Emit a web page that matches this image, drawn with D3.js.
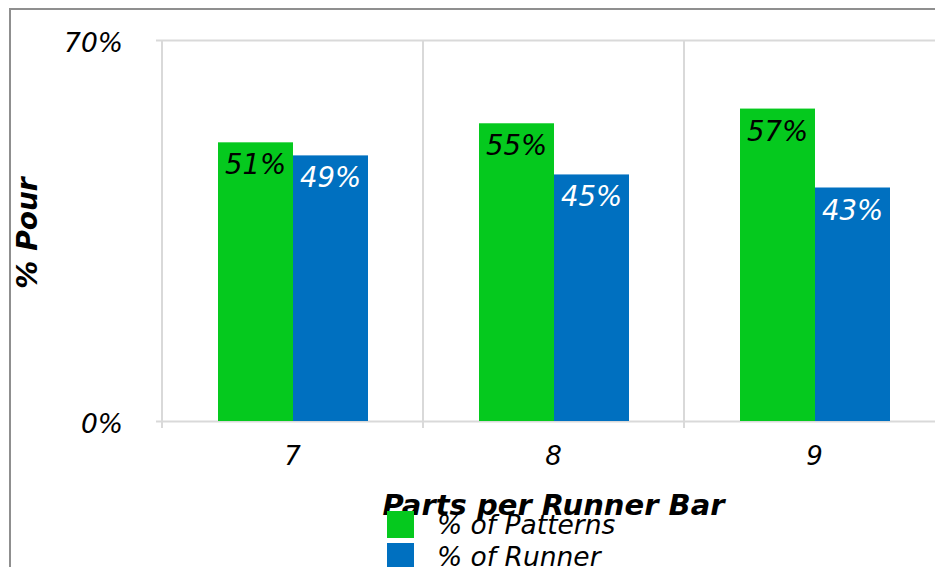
<!DOCTYPE html>
<html><head><meta charset="utf-8">
<script src="https://cdn.jsdelivr.net/npm/d3@7"></script>
<style>
html,body{margin:0;padding:0;background:#fff;overflow:hidden;}
svg{display:block;font-family:"DejaVu Sans",Verdana,sans-serif;}
</style></head>
<body>
<svg id="chart" width="935" height="567"></svg>
<script>
const categories = ["7", "8", "9"];
const seriesNames = ["% of Patterns", "% of Runner"];
const patterns = [51.2, 54.7, 57.4];
const runner = [48.8, 45.3, 42.9];
const yTicks = [0, 70];
const seriesColors = ["#05c91e", "#0070c0"];
const labelColors = ["#000000", "#ffffff"];

const svg = d3.select("#chart");
const plot = {left: 162, top: 40, bottom: 421, right: 945};
const gridColor = "#d9d9d9";

// outer border
svg.append("rect").attr("x", 10).attr("y", 9).attr("width", 1000).attr("height", 700)
  .attr("fill", "none").attr("stroke", "#8f8f8f").attr("stroke-width", 2);

const y = d3.scaleLinear().domain([0, 70]).range([plot.bottom, plot.top]);
const x0 = d3.scaleBand().domain(categories).range([plot.left, plot.right]).padding(0);
const groupW = 150;
const x1 = d3.scaleBand().domain(seriesNames).range([0, groupW]).padding(0);

// horizontal gridlines + left ticks
const yAxis = d3.axisLeft(y).tickValues(yTicks).tickSize(0).tickFormat(d => d + "%");
const gy = svg.append("g").attr("transform", `translate(${plot.left},0)`).call(yAxis);
gy.select(".domain").remove();
gy.selectAll(".tick line").remove();
gy.selectAll(".tick").append("line")
  .attr("x1", -6).attr("x2", plot.right - plot.left)
  .attr("stroke", gridColor).attr("stroke-width", 2);
gy.selectAll(".tick text")
  .attr("x", -39).attr("dy", "0.42em")
  .attr("font-size", 26.5).attr("font-style", "italic")
  .attr("font-family", "DejaVu Sans").attr("fill", "#000");

// vertical category boundaries
const bounds = categories.map(c => x0(c)).concat([plot.right]);
svg.append("g").selectAll("line").data(bounds).join("line")
  .attr("x1", d => d).attr("x2", d => d)
  .attr("y1", plot.top).attr("y2", plot.bottom + 7)
  .attr("stroke", gridColor).attr("stroke-width", 2);

// x axis labels
const xAxis = d3.axisBottom(x0).tickSize(0).tickPadding(26);
const gx = svg.append("g").attr("transform", `translate(0,${plot.bottom})`).call(xAxis);
gx.select(".domain").remove();
gx.selectAll(".tick text").attr("font-size", 26).attr("font-style", "italic")
  .attr("font-family", "DejaVu Sans").attr("fill", "#000");

// bars
const rows = categories.map((c, i) => ({cat: c, vals: [patterns[i], runner[i]]}));
const groups = svg.append("g").selectAll("g").data(rows).join("g")
  .attr("transform", d => `translate(${x0(d.cat) + (x0.bandwidth() - groupW) / 2 + 0.5},0)`);
groups.selectAll("rect").data(d => d.vals.map((v, j) => ({v, j}))).join("rect")
  .attr("x", d => x1(seriesNames[d.j]))
  .attr("width", x1.bandwidth())
  .attr("y", d => y(d.v))
  .attr("height", d => y(0) - y(d.v))
  .attr("fill", d => seriesColors[d.j]);
groups.selectAll("text").data(d => d.vals.map((v, j) => ({v, j}))).join("text")
  .attr("x", d => x1(seriesNames[d.j]) + x1.bandwidth() / 2)
  .attr("y", d => y(d.v) + 32)
  .attr("text-anchor", "middle")
  .attr("font-size", 27.5).attr("font-style", "italic")
  .attr("fill", d => labelColors[d.j])
  .text(d => Math.round(d.v) + "%");

// axis titles
svg.append("text").attr("x", (plot.left + plot.right) / 2).attr("y", 515)
  .attr("text-anchor", "middle").attr("font-size", 29)
  .attr("font-weight", "bold").attr("font-style", "italic")
  .text("Parts per Runner Bar");
svg.append("text").attr("transform", "translate(37,233) rotate(-90)")
  .attr("text-anchor", "middle").attr("font-size", 28)
  .attr("font-weight", "bold").attr("font-style", "italic")
  .text("% Pour");

// legend
const lg = svg.append("g").selectAll("g").data(seriesNames).join("g")
  .attr("transform", (d, i) => `translate(387,${511 + i * 32})`);
lg.append("rect").attr("width", 27).attr("height", 27)
  .attr("fill", (d, i) => seriesColors[i]);
lg.append("text").attr("x", 50).attr("y", 23)
  .attr("font-size", 26.5).attr("font-style", "italic")
  .text(d => d);
</script>
</body></html>
